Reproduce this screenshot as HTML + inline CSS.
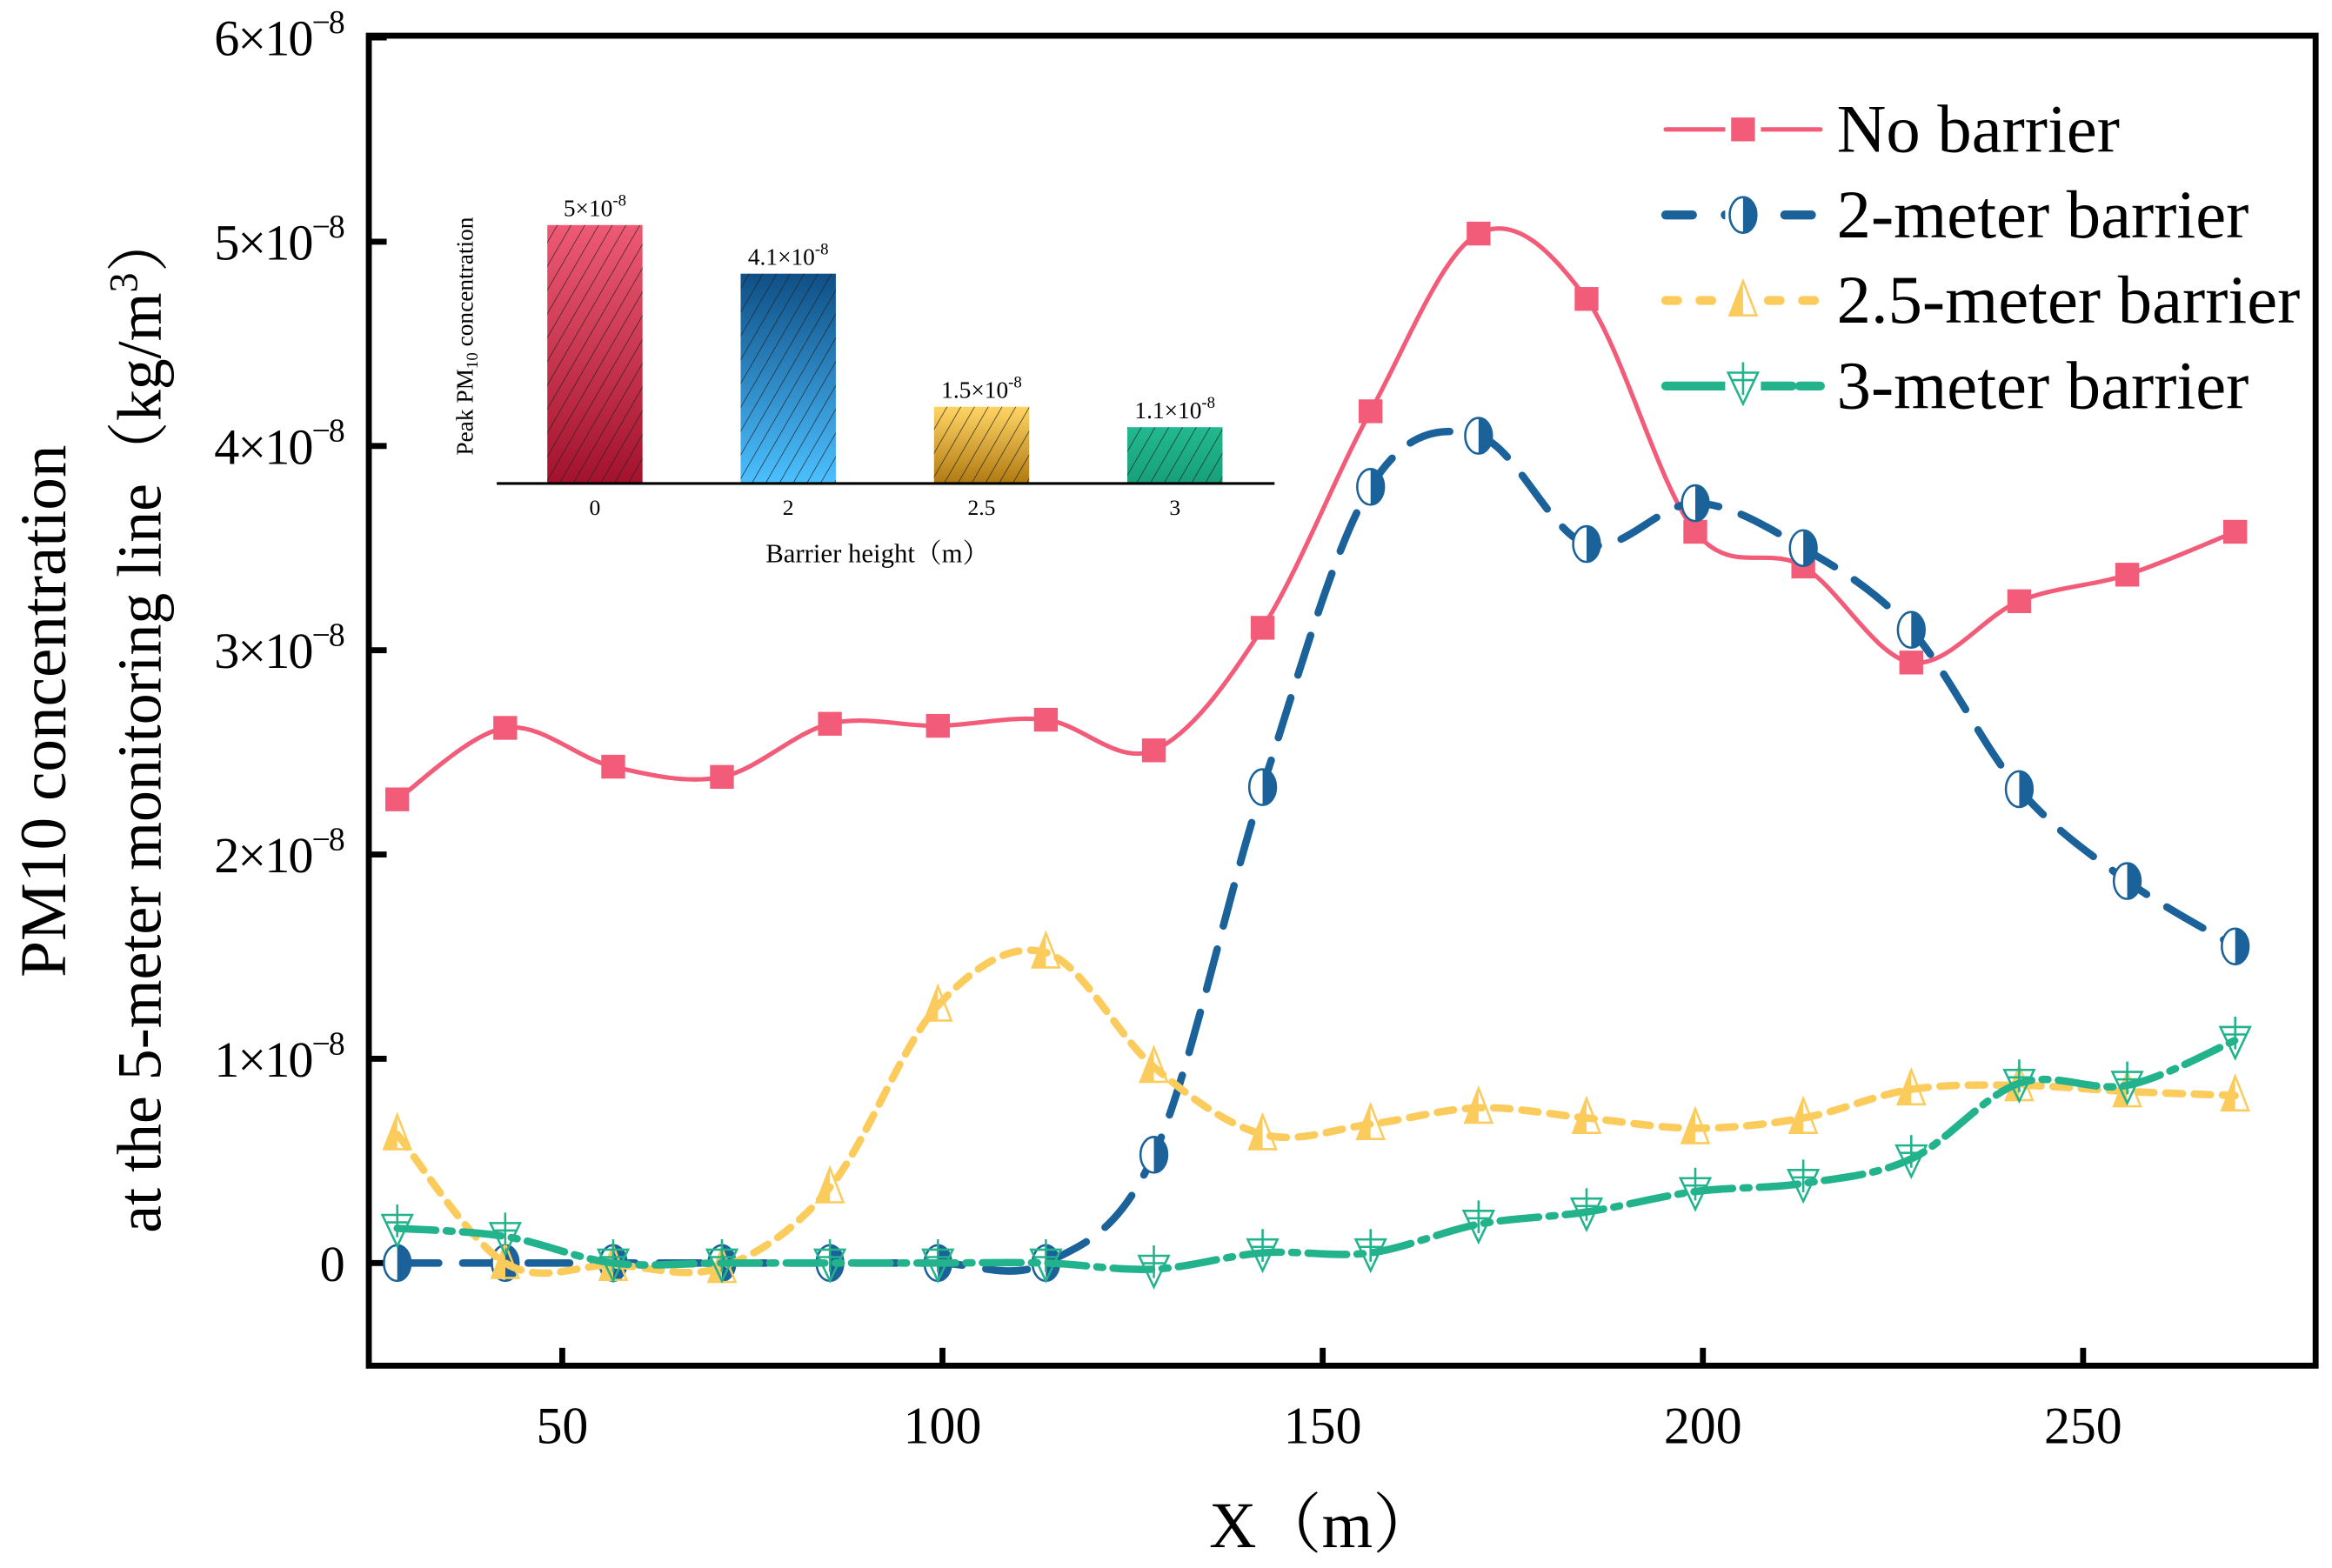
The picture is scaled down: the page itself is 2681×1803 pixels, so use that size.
<!DOCTYPE html>
<html><head><meta charset="utf-8"><style>
html,body{margin:0;padding:0;background:#fff}
svg{display:block}
text{font-family:"Liberation Serif","Noto Serif CJK SC",serif;fill:#000}
</style></head><body>
<svg id="chart" width="2681" height="1803" viewBox="0 0 1568 1054" preserveAspectRatio="none" xmlns="http://www.w3.org/2000/svg">
<defs>
<linearGradient id="g0" x1="0" y1="0" x2="0" y2="1"><stop offset="0" stop-color="#ee5a74"/><stop offset="1" stop-color="#a3122c"/></linearGradient>
<linearGradient id="g1" x1="0" y1="0" x2="0" y2="1"><stop offset="0" stop-color="#0f4f86"/><stop offset="1" stop-color="#4cc0ff"/></linearGradient>
<linearGradient id="g2" x1="0" y1="0" x2="0" y2="1"><stop offset="0" stop-color="#ffd464"/><stop offset="1" stop-color="#b07a12"/></linearGradient>
<linearGradient id="g3" x1="0" y1="0" x2="0" y2="1"><stop offset="0" stop-color="#22b98e"/><stop offset="1" stop-color="#17a07a"/></linearGradient>
<pattern id="hatch" width="8" height="8" patternUnits="userSpaceOnUse" patternTransform="rotate(30)"><line x1="0" y1="0" x2="0" y2="8" stroke="#222" stroke-width="0.8"/></pattern>
<clipPath id="plotclip"><rect x="250" y="26" width="1305" height="890"/></clipPath>
</defs>
<g id="main"></g>
</svg>
<script>
const xs = [28.3,42.5,56.7,71,85.2,99.4,113.6,127.8,142.1,156.3,170.5,184.7,199,213.2,227.4,241.6,255.8,270];
const noBarrier = [2.27,2.62,2.43,2.38,2.64,2.63,2.66,2.51,3.11,4.17,5.04,4.72,3.58,3.41,2.94,3.24,3.37,3.58];
const barrier2 = [0,0,0,0,0,0,0,0.53,2.33,3.80,4.05,3.52,3.72,3.50,3.10,2.32,1.87,1.55];
const barrier25 = [0.63,0,-0.01,-0.02,0.37,1.26,1.52,0.96,0.63,0.68,0.76,0.71,0.66,0.71,0.85,0.87,0.84,0.82];
const barrier3 = [0.17,0.13,0,0,0,0,0,-0.03,0.05,0.05,0.19,0.25,0.35,0.39,0.51,0.88,0.87,1.09];
const yTicks = [0,1,2,3,4,5,6];
const xTicks = [50,100,150,200,250];
const insetCats = ["0","2","2.5","3"];
const insetVals = [5.05,4.1,1.5,1.1];
const insetLabels = [["5×10","-8"],["4.1×10","-8"],["1.5×10","-8"],["1.1×10","-8"]];

const NS="http://www.w3.org/2000/svg";
const root=document.getElementById('main');
function X(v){return 122.4+5.113*v;}
function Y(v){return 849-137.3*v;}
function el(tag,attrs,parent){const e=document.createElementNS(NS,tag);for(const k in attrs)e.setAttribute(k,attrs[k]);(parent||root).appendChild(e);return e;}
function spline(pts){let d=`M${pts[0][0]},${pts[0][1]}`;for(let i=0;i<pts.length-1;i++){const p0=pts[i-1]||pts[i],p1=pts[i],p2=pts[i+1],p3=pts[i+2]||p2;const c1=[p1[0]+(p2[0]-p0[0])/6,p1[1]+(p2[1]-p0[1])/6],c2=[p2[0]-(p3[0]-p1[0])/6,p2[1]-(p3[1]-p1[1])/6];d+=`C${c1[0]},${c1[1]} ${c2[0]},${c2[1]} ${p2[0]},${p2[1]}`;}return d;}

const frame=el('rect',{x:248,y:24,width:1309,height:894,fill:'none',stroke:'#000','stroke-width':4});

yTicks.forEach(t=>{
 const l=el('line',{x1:248,x2:260,y1:Y(t),y2:Y(t),stroke:'#000','stroke-width':4});
 
 const tx=el('text',{x:232,y:Y(t)+12,'text-anchor':'end','font-size':34,textLength:t===0?null:88});
 if(t===0)tx.removeAttribute('textLength');
 
 if(t===0){tx.textContent='0';}else{tx.textContent=t+'×10';const s=el('tspan',{dy:-15,'font-size':22},tx);s.textContent='−8';}
});
xTicks.forEach(t=>{
 const l=el('line',{x1:X(t),x2:X(t),y1:918,y2:906,stroke:'#000','stroke-width':4});
 
 const tx=el('text',{x:X(t),y:970,'text-anchor':'middle','font-size':35});
 
 tx.textContent=t;
});
const xt=el('text',{x:890,y:1040,'text-anchor':'middle','font-size':44});
xt.textContent='X（m）';
const yt1=el('text',{x:0,y:0,'text-anchor':'middle','font-size':44,transform:'translate(44,478) rotate(-90)'});
yt1.textContent='PM10 concentration';
const yt2=el('text',{x:0,y:0,'text-anchor':'middle','font-size':42,transform:'translate(108,485) rotate(-90)'});
yt2.textContent='at the 5-meter monitoring line（kg/m';
const sp=el('tspan',{dy:-16,'font-size':27},yt2);sp.textContent='3';const sp2=el('tspan',{dy:16},yt2);sp2.textContent='）';

const series=[
 {name:'no-barrier',data:noBarrier,color:'#f25c78',dash:'none',mk:'square'},
 {name:'2-meter-barrier',data:barrier2,color:'#1a6299',dash:'28 16',mk:'circle'},
 {name:'2.5-meter-barrier',data:barrier25,color:'#fbcb5c',dash:'11 8',mk:'tri'},
 {name:'3-meter-barrier',data:barrier3,color:'#22b38c',dash:'26 7 4 7',mk:'dtri'}
];
function marker(type,x,y,c,g){
 if(type==='square'){el('rect',{x:x-8,y:y-8,width:16,height:16,fill:c},g);}
 else if(type==='circle'){el('ellipse',{cx:x,cy:y,rx:9,ry:12,fill:'#fff',stroke:c,'stroke-width':1.5},g);el('path',{d:`M${x},${y-12} A9,12 0 0 1 ${x},${y+12} Z`,fill:c},g);}
 else if(type==='tri'){el('path',{d:`M${x},${y-13} L${x-9},${y+10} L${x},${y+10} Z`,fill:c},g);el('path',{d:`M${x},${y-13} L${x-9},${y+10} L${x+9},${y+10} Z`,fill:'none',stroke:c,'stroke-width':1.5},g);}
 else {el('path',{d:`M${x-10},${y-9} L${x+10},${y-9} L${x},${y+12} Z`,fill:'none',stroke:c,'stroke-width':1.5},g);el('path',{d:`M${x},${y-16} V${y+6} M${x-7},${y-4} H${x+7}`,stroke:c,'stroke-width':1.5},g);}
}
series.forEach((s,si)=>{
 const g=el('g',{'clip-path':'url(#plotclip)'});
 
 const pts=xs.map((x,i)=>[X(x),Y(s.data[i])]);
 const p=el('path',{d:spline(pts),fill:'none',stroke:s.color,'stroke-width':si===0?3:5,'stroke-dasharray':s.dash,'stroke-linecap':'round'},g);
 
 pts.forEach(pt=>marker(s.mk,pt[0],pt[1],s.color,g));
 const ly=87+si*57.5;
 const lg=el('g',{});
 
 el('line',{x1:1120,x2:1224,y1:ly,y2:ly,stroke:s.color,'stroke-width':si===0?3:6,'stroke-dasharray':s.dash==='none'?'none':(si===1?'18 22':si===2?'8 15':'40 5'),'stroke-linecap':'round'},lg);
 el('rect',{x:1160,y:ly-14,width:24,height:28,fill:'#fff'},lg);
 marker(s.mk,1172,ly,s.color,lg);
 const t=el('text',{x:1235,y:ly+15,'font-size':46},lg);t.textContent=['No barrier','2-meter barrier','2.5-meter barrier','3-meter barrier'][si];
});

const ig=el('g',{});
const IB=325, IS=34.4, cx0=400, cstep=130;
insetVals.forEach((v,i)=>{
 const cx=cx0+i*cstep, h=v*IS;
 const b=el('rect',{x:cx-32,y:IB-h,width:64,height:h,fill:`url(#g${i})`},ig);
 
 el('rect',{x:cx-32,y:IB-h,width:64,height:h,fill:'url(#hatch)'},ig);
 const t=el('text',{x:cx,y:IB-h-6,'text-anchor':'middle','font-size':16},ig);
 
 t.textContent=insetLabels[i][0];const s=el('tspan',{dy:-7,'font-size':11},t);s.textContent=insetLabels[i][1];
 const c=el('text',{x:cx,y:346,'text-anchor':'middle','font-size':15},ig);
 c.textContent=insetCats[i];
});
const ax=el('line',{x1:334,x2:857,y1:IB,y2:IB,stroke:'#000','stroke-width':1.8},ig);

const ixt=el('text',{x:590,y:378,'text-anchor':'middle','font-size':18},ig);
ixt.textContent='Barrier height（m）';
const iyt=el('text',{x:0,y:0,'text-anchor':'middle','font-size':16,transform:'translate(318,226) rotate(-90)'},ig);

iyt.textContent='Peak PM';const sub=el('tspan',{'font-size':11,dy:3},iyt);sub.textContent='10';const rest=el('tspan',{dy:-3},iyt);rest.textContent=' concentration';
</script>
</body></html>
